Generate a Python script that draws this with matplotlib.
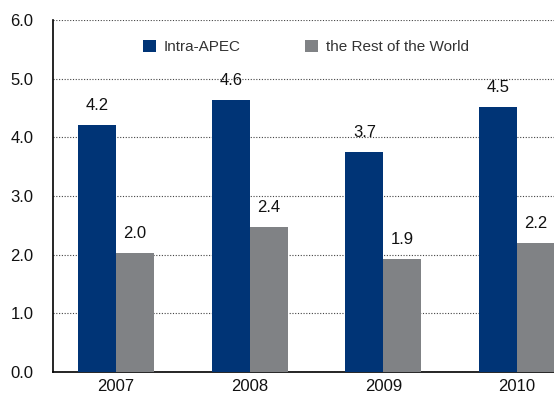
import numpy as np
import matplotlib.pyplot as plt

plt.rcParams['font.family'] = ['Liberation Sans', 'DejaVu Sans']

years = ["2007", "2008", "2009", "2010"]
intra_apec = [4.21, 4.64, 3.75, 4.52]
rest_world = [2.03, 2.47, 1.93, 2.20]
intra_labels = ["4.2", "4.6", "3.7", "4.5"]
rest_labels = ["2.0", "2.4", "1.9", "2.2"]

blue = "#003476"
grey = "#808285"

fig = plt.figure(figsize=(5.54, 3.94), dpi=100)
ax = fig.add_axes([0.0957, 0.0558, 0.9043, 0.8935])

x = np.arange(len(years))
w = 0.284
b1 = ax.bar(x - w / 2, intra_apec, w, color=blue, label="Intra-APEC", zorder=3)
b2 = ax.bar(x + w / 2, rest_world, w, color=grey, label="the Rest of the World", zorder=3)

for bars, vals, labs in [(b1, intra_apec, intra_labels), (b2, rest_world, rest_labels)]:
    for rect, v, lab in zip(bars, vals, labs):
        ax.annotate(lab, (rect.get_x() + rect.get_width() / 2, v),
                    xytext=(0, 12), textcoords="offset pixels",
                    ha="center", va="bottom", fontsize=12, color="#111111")

ax.set_ylim(0, 6)
ax.set_xlim(-0.471, 3.277)
ax.set_yticks(np.arange(0, 6.1, 1.0))
ax.set_yticklabels([f"{t:.1f}" for t in np.arange(0, 6.1, 1.0)])
ax.set_xticks(x)
ax.set_xticklabels(years)
ax.tick_params(axis="both", length=0, labelsize=12, colors="#111111")
ax.tick_params(axis="y", pad=14)
ax.tick_params(axis="x", pad=5)

ax.yaxis.grid(True, linestyle=(0, (1, 1.5)), color="#444444", linewidth=0.8, zorder=0)
ax.set_axisbelow(True)
ax.spines["top"].set_visible(False)
ax.spines["right"].set_visible(False)
ax.spines["left"].set_linewidth(1.2)
ax.spines["bottom"].set_linewidth(1.2)

ax.legend(loc="upper left", bbox_to_anchor=(0.153, 0.982), ncol=2, frameon=False,
          handlelength=0.85, handleheight=0.85, handletextpad=0.5, columnspacing=4.2,
          fontsize=11, labelcolor="#333333")

fig.savefig("out.png", dpi=100)
